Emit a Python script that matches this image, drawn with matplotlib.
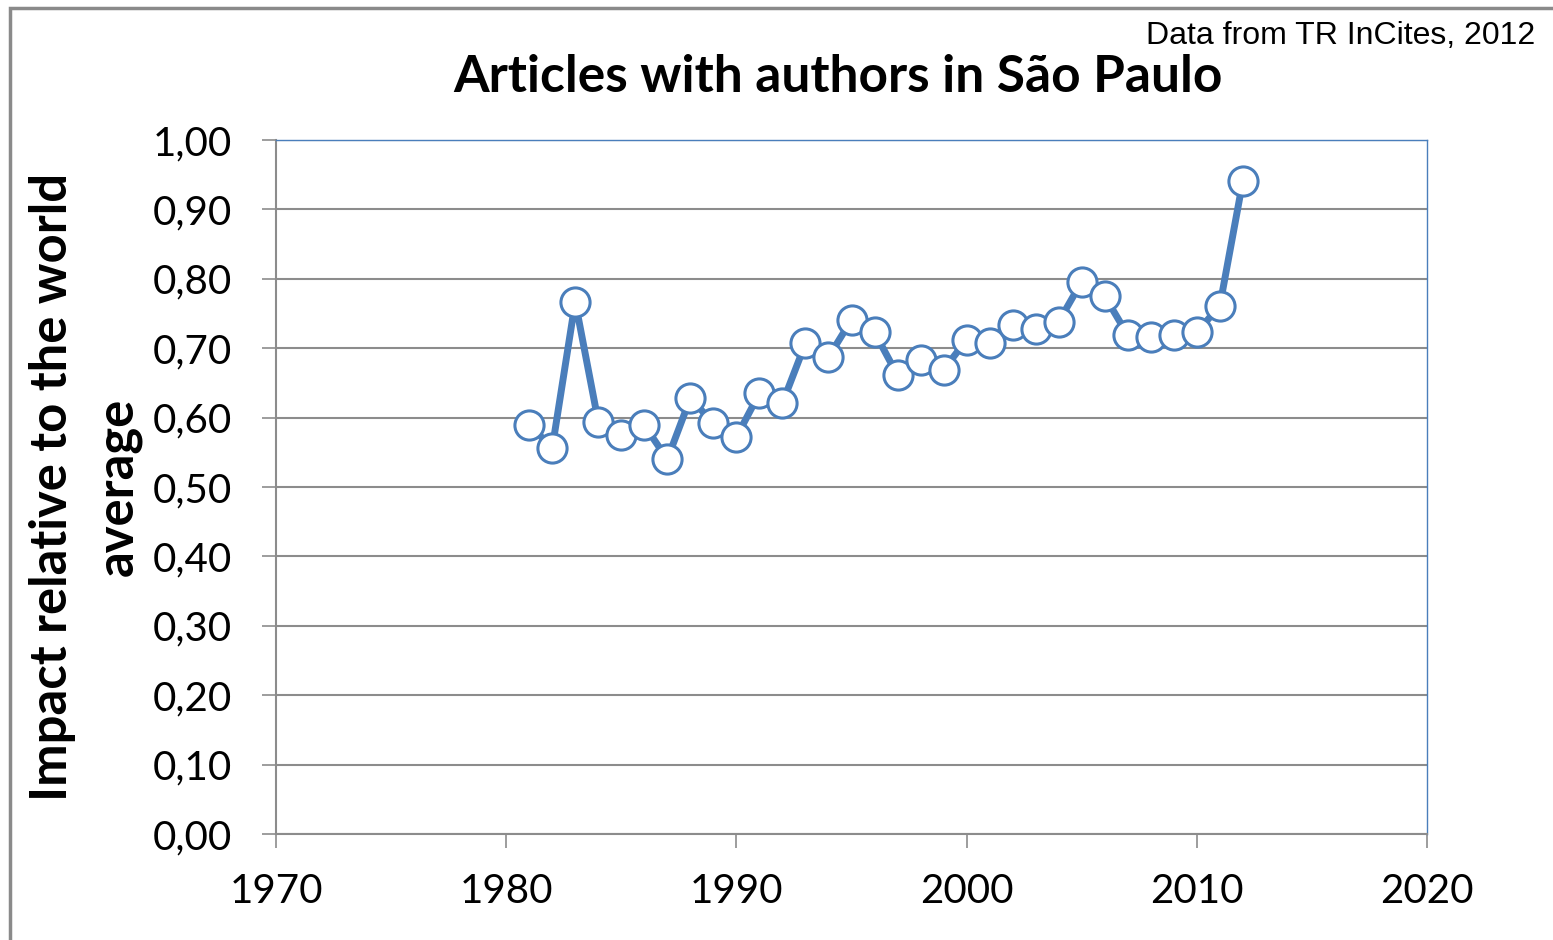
from matplotlib import pyplot as plt
from matplotlib.patches import Rectangle
from matplotlib.ticker import FuncFormatter, MultipleLocator
import numpy as np

years = np.arange(1981, 2013)
impact = [0.590, 0.556, 0.767, 0.594, 0.575, 0.589, 0.540, 0.628, 0.592, 0.572,
          0.635, 0.621, 0.707, 0.687, 0.741, 0.723, 0.661, 0.683, 0.669, 0.712,
          0.708, 0.733, 0.727, 0.738, 0.796, 0.775, 0.719, 0.716, 0.719, 0.723,
          0.761, 0.941]
x_ticks = [1970, 1980, 1990, 2000, 2010, 2020]

blue = '#4a7ebb'
grid_gray = '#8c8c8c'

plt.rcParams['font.family'] = ['Lato', 'DejaVu Sans']

W, H = 1553, 940
fig = plt.figure(figsize=(W / 100, H / 100), dpi=100)
ax = fig.add_axes([276 / W, (H - 834) / H, (1427 - 276) / W, (834 - 140) / H])

# outer frame of the chart object
fig.patches.append(Rectangle((10 / W, -0.05), 1.2, (H - 8) / H + 0.05, transform=fig.transFigure,
                             fill=False, edgecolor='#8a8a8a', linewidth=2.5))

ax.plot(years, impact, color=blue, lw=5, marker='o', markersize=21,
        markerfacecolor='white', markeredgecolor=blue, markeredgewidth=2.2, zorder=3, clip_on=False)

ax.set_xlim(1970, 2020)
ax.set_ylim(0, 1.0)
ax.set_xticks(x_ticks)
ax.yaxis.set_major_locator(MultipleLocator(0.1))
ax.yaxis.set_major_formatter(FuncFormatter(lambda v, p: f'{v:.2f}'.replace('.', ',')))
ax.grid(axis='y', color=grid_gray, lw=1.5, zorder=1)
ax.set_axisbelow(True)

for side in ['top', 'right']:
    ax.spines[side].set_color(blue)
    ax.spines[side].set_linewidth(1)
for side in ['left', 'bottom']:
    ax.spines[side].set_color(grid_gray)
    ax.spines[side].set_linewidth(1.5)

ax.tick_params(axis='both', direction='out', length=10, width=1.2, color=grid_gray, labelsize=29)
ax.tick_params(axis='y', pad=22)
ax.tick_params(axis='x', pad=18)

# two-line y label placed line by line
fig.text(53 / W, 1 - 487 / H, 'Impact relative to the world', fontsize=36.5, fontweight='bold',
         rotation=90, ha='center', va='center')
fig.text(118 / W, 1 - 487 / H, 'average', fontsize=36.5, fontweight='bold',
         rotation=90, ha='center', va='center')

fig.text(838 / W, 1 - 77 / H, 'Articles with authors in São Paulo', fontsize=37,
         fontweight='bold', ha='center', va='center')
fig.text(1535 / W, 1 - 36 / H, 'Data from TR InCites, 2012', fontsize=23,
         family='Liberation Sans', ha='right', va='center')

plt.savefig('out.png', dpi=100)
